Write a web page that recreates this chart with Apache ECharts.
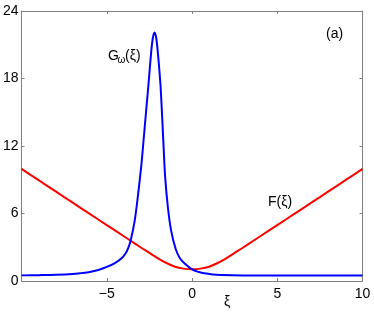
<!DOCTYPE html>
<html><head><meta charset="utf-8">
<script src="https://cdn.jsdelivr.net/npm/echarts@6/dist/echarts.min.js"></script>
<style>html,body{margin:0;padding:0;background:#fff}#c{width:374px;height:313px}</style>
</head><body><div id="c"></div>
<script>
const xTicks = [-10, -5, 0, 5, 10];
const yTicks = [0, 6, 12, 18, 24];
const blueXi = [-10,-9,-8,-7,-6.5,-6,-5.5,-5,-4.5,-4.15,-3.9,-3.74,-3.6,-3.37,-3.18,-2.98,-2.85,-2.7,-2.56,-2.4,-2.3,-2.2,-2.1,-2.0,-1.85,-1.68,-1.58,-1.42,-1.23,-0.94,-0.7,-0.45,0,0.4,0.72,1.2,1.7,3,10];
const blueG = [0.5,0.52,0.55,0.62,0.7,0.8,0.98,1.25,1.62,2.0,2.45,2.95,3.6,5.3,7.5,10.2,12.4,15.0,17.4,20.3,21.6,22.1,21.6,20.2,17.4,12.3,9.3,6.6,4.5,2.75,2.0,1.57,1.04,0.8,0.68,0.58,0.53,0.5,0.5];
const redXi = [-10,-9,-8,-7,-6,-5,-4,-3.6,-3,-2.5,-2,-1.5,-1,-0.5,0,0.5,1,1.5,2,2.5,3,3.6,4,5,6,7,8,9,10];
const redF = [9.96,8.96,7.96,6.96,5.96,4.97,3.98,3.58,2.98,2.5,2.02,1.6,1.27,1.1,1.04,1.1,1.27,1.6,2.02,2.5,2.98,3.58,3.98,4.97,5.96,6.96,7.96,8.96,9.96];

const FONT = '"Liberation Sans", Arial, sans-serif';
const axisCol = '#808080';
const chart = echarts.init(document.getElementById('c'));
const xFmt = v => v === -10 ? '' : (v < 0 ? '\u2212' + Math.abs(v) : String(v));
const baseX = {type:'value', min:-10, max:10, interval:5,
  axisLine:{show:true, onZero:false, lineStyle:{color:axisCol, width:1}},
  axisTick:{show:true, inside:true, length:3, lineStyle:{color:axisCol}},
  splitLine:{show:false}};
const baseY = {type:'value', min:0, max:24, interval:6,
  axisLine:{show:true, onZero:false, lineStyle:{color:axisCol, width:1}},
  axisTick:{show:true, inside:true, length:3, lineStyle:{color:axisCol}},
  splitLine:{show:false}};
chart.setOption({
  animation:false,
  grid:{left:20, right:11.5, top:11, bottom:32},
  xAxis:[
    Object.assign({}, baseX, {position:'bottom', axisLabel:{formatter:xFmt, color:'#000', fontSize:14, fontFamily:FONT, margin:6}}),
    Object.assign({}, baseX, {position:'top', axisLabel:{show:false}})
  ],
  yAxis:[
    Object.assign({}, baseY, {position:'left', axisLabel:{color:'#000', fontSize:14, fontFamily:FONT, margin:3}}),
    Object.assign({}, baseY, {position:'right', axisLabel:{show:false}})
  ],
  series:[
    {type:'line', data: redXi.map((x,i)=>[x, redF[i]]), smooth:0.3, showSymbol:false,
     lineStyle:{color:'#ff0000', width:2}, z:2},
    {type:'line', data: blueXi.map((x,i)=>[x, blueG[i]]), smooth:0.3, showSymbol:false,
     lineStyle:{color:'#0000ff', width:2}, z:3}
  ],
  graphic:[
    {type:'text', left:108, top:49, style:{text:'G', fontSize:14, fontFamily:FONT, fill:'#000'}},
    {type:'text', left:117.5, top:55, style:{text:'\u03c9', fontSize:10, fontFamily:FONT, fill:'#000'}},
    {type:'text', left:125, top:49, style:{text:'(\u03be)', fontSize:14, fontFamily:FONT, fill:'#000'}},
    {type:'text', left:268, top:195, style:{text:'F(\u03be)', fontSize:14, fontFamily:FONT, fill:'#000'}},
    {type:'text', left:326, top:27, style:{text:'(a)', fontSize:14, fontFamily:FONT, fill:'#000'}},
    {type:'text', left:224, top:295, style:{text:'\u03be', fontSize:14, fontFamily:FONT, fill:'#000'}}
  ]
});
</script></body></html>
